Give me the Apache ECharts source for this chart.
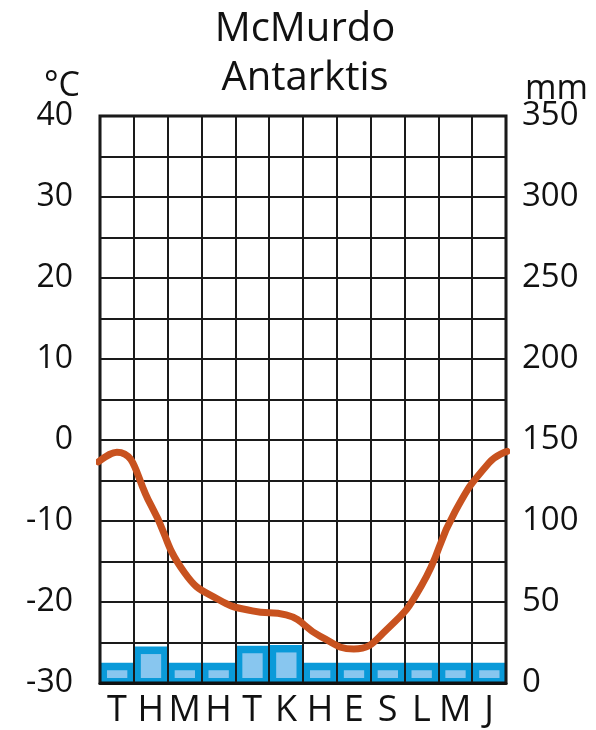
<!DOCTYPE html>
<html>
<head>
<meta charset="utf-8">
<script src="https://cdn.jsdelivr.net/npm/echarts@6/dist/echarts.min.js"></script>
<style>
  html, body { margin: 0; padding: 0; background: #fff; }
  #chart { width: 596px; height: 730px; }
</style>
</head>
<body>
<div id="chart"></div>
<script>
// ---- data ----
const months = ['T', 'H', 'M', 'H', 'T', 'K', 'H', 'E', 'S', 'L', 'M', 'J'];
const tempC = [-1.5, -8.0, -16.4, -19.7, -21.1, -21.6, -24.2, -25.8, -23.3, -18.0, -8.8, -2.8];
const tempLineStart = [-0.05, -2.7];   // [month position, °C] where the drawn curve begins
const tempLineEnd = [12.03, -1.4];     // [month position, °C] where the drawn curve ends
const precipMm = [12.5, 22.5, 12.5, 12.5, 23, 23.5, 12.5, 12.5, 12.5, 12.5, 12.5, 12.5];
const tempTicks = { min: -30, max: 40, step: 5 };
const precipTicks = { min: 0, max: 350, step: 50 };
const titleLines = ['McMurdo', 'Antarktis'];

const FONT = '"Open Sans", "DejaVu Sans", sans-serif';
const chart = echarts.init(document.getElementById('chart'), null, { renderer: 'canvas' });

const lineData = [tempLineStart].concat(tempC.map((t, i) => [i + 0.5, t]), [tempLineEnd]);

const gridLine = { show: true, lineStyle: { color: '#1a1a1a', width: 2 } };

chart.setOption({
  animation: false,
  backgroundColor: '#fff',
  title: {
    text: titleLines.join('\n'),
    left: 300,
    textAlign: 'center',
    top: 0,
    textStyle: { fontFamily: FONT, fontSize: 40, fontWeight: 'normal', color: '#111', lineHeight: 49 }
  },
  graphic: [
    { type: 'text', left: 44, top: 69, style: { text: '°C', font: '34px ' + FONT, fill: '#111' } },
    { type: 'text', left: 525, top: 72, style: { text: 'mm', font: '34px ' + FONT, fill: '#111' } }
  ],
  grid: { left: 100, right: 90, top: 116, bottom: 47, show: true, borderColor: '#111', borderWidth: 3, z: 4 },
  xAxis: [
    {
      type: 'category', data: months, boundaryGap: true, z: 4,
      axisLine: { show: true, onZero: false, lineStyle: { color: '#111', width: 3 } },
      axisTick: { show: false },
      splitLine: gridLine,
      axisLabel: { fontFamily: FONT, fontSize: 36, color: '#111', margin: 10, interval: 0 }
    },
    { type: 'value', min: 0, max: 12, show: false }
  ],
  yAxis: [
    {
      type: 'value', min: tempTicks.min, max: tempTicks.max, interval: tempTicks.step, z: 4,
      axisLine: { show: false }, axisTick: { show: false },
      splitLine: gridLine,
      axisLabel: {
        fontFamily: FONT, fontSize: 32, color: '#111', margin: 27, padding: [6, 0, 0, 0],
        formatter: v => (v % 10 === 0 ? String(v) : '')
      }
    },
    {
      type: 'value', min: precipTicks.min, max: precipTicks.max, interval: precipTicks.step, position: 'right',
      axisLine: { show: false }, axisTick: { show: false }, splitLine: { show: false },
      axisLabel: { fontFamily: FONT, fontSize: 33, color: '#111', margin: 16, padding: [6, 0, 0, 0] }
    }
  ],
  series: [
    {
      type: 'custom', xAxisIndex: 0, yAxisIndex: 1, z: 2,
      data: precipMm.map((v, i) => [i, v]),
      renderItem: function (params, api) {
        const top = api.coord([api.value(0), api.value(1)]);
        const base = api.coord([api.value(0), 0]);
        const bw = api.size([1, 0])[0];
        const x0 = top[0] - bw / 2;
        return {
          type: 'group',
          children: [
            { type: 'rect', shape: { x: x0, y: top[1], width: bw, height: base[1] - top[1] },
              style: { fill: '#0a9ad9' } },
            { type: 'rect', shape: { x: x0 + 7, y: top[1] + 7.5, width: bw - 13.5, height: base[1] - top[1] - 12.5 },
              style: { fill: '#88c6ef' } }
          ]
        };
      }
    },
    {
      type: 'line', xAxisIndex: 1, yAxisIndex: 0, z: 6,
      data: lineData, smooth: 0.5, showSymbol: false, clip: false,
      lineStyle: { color: '#c8521f', width: 7, cap: 'round', join: 'round' }
    }
  ]
});
</script>
</body>
</html>
